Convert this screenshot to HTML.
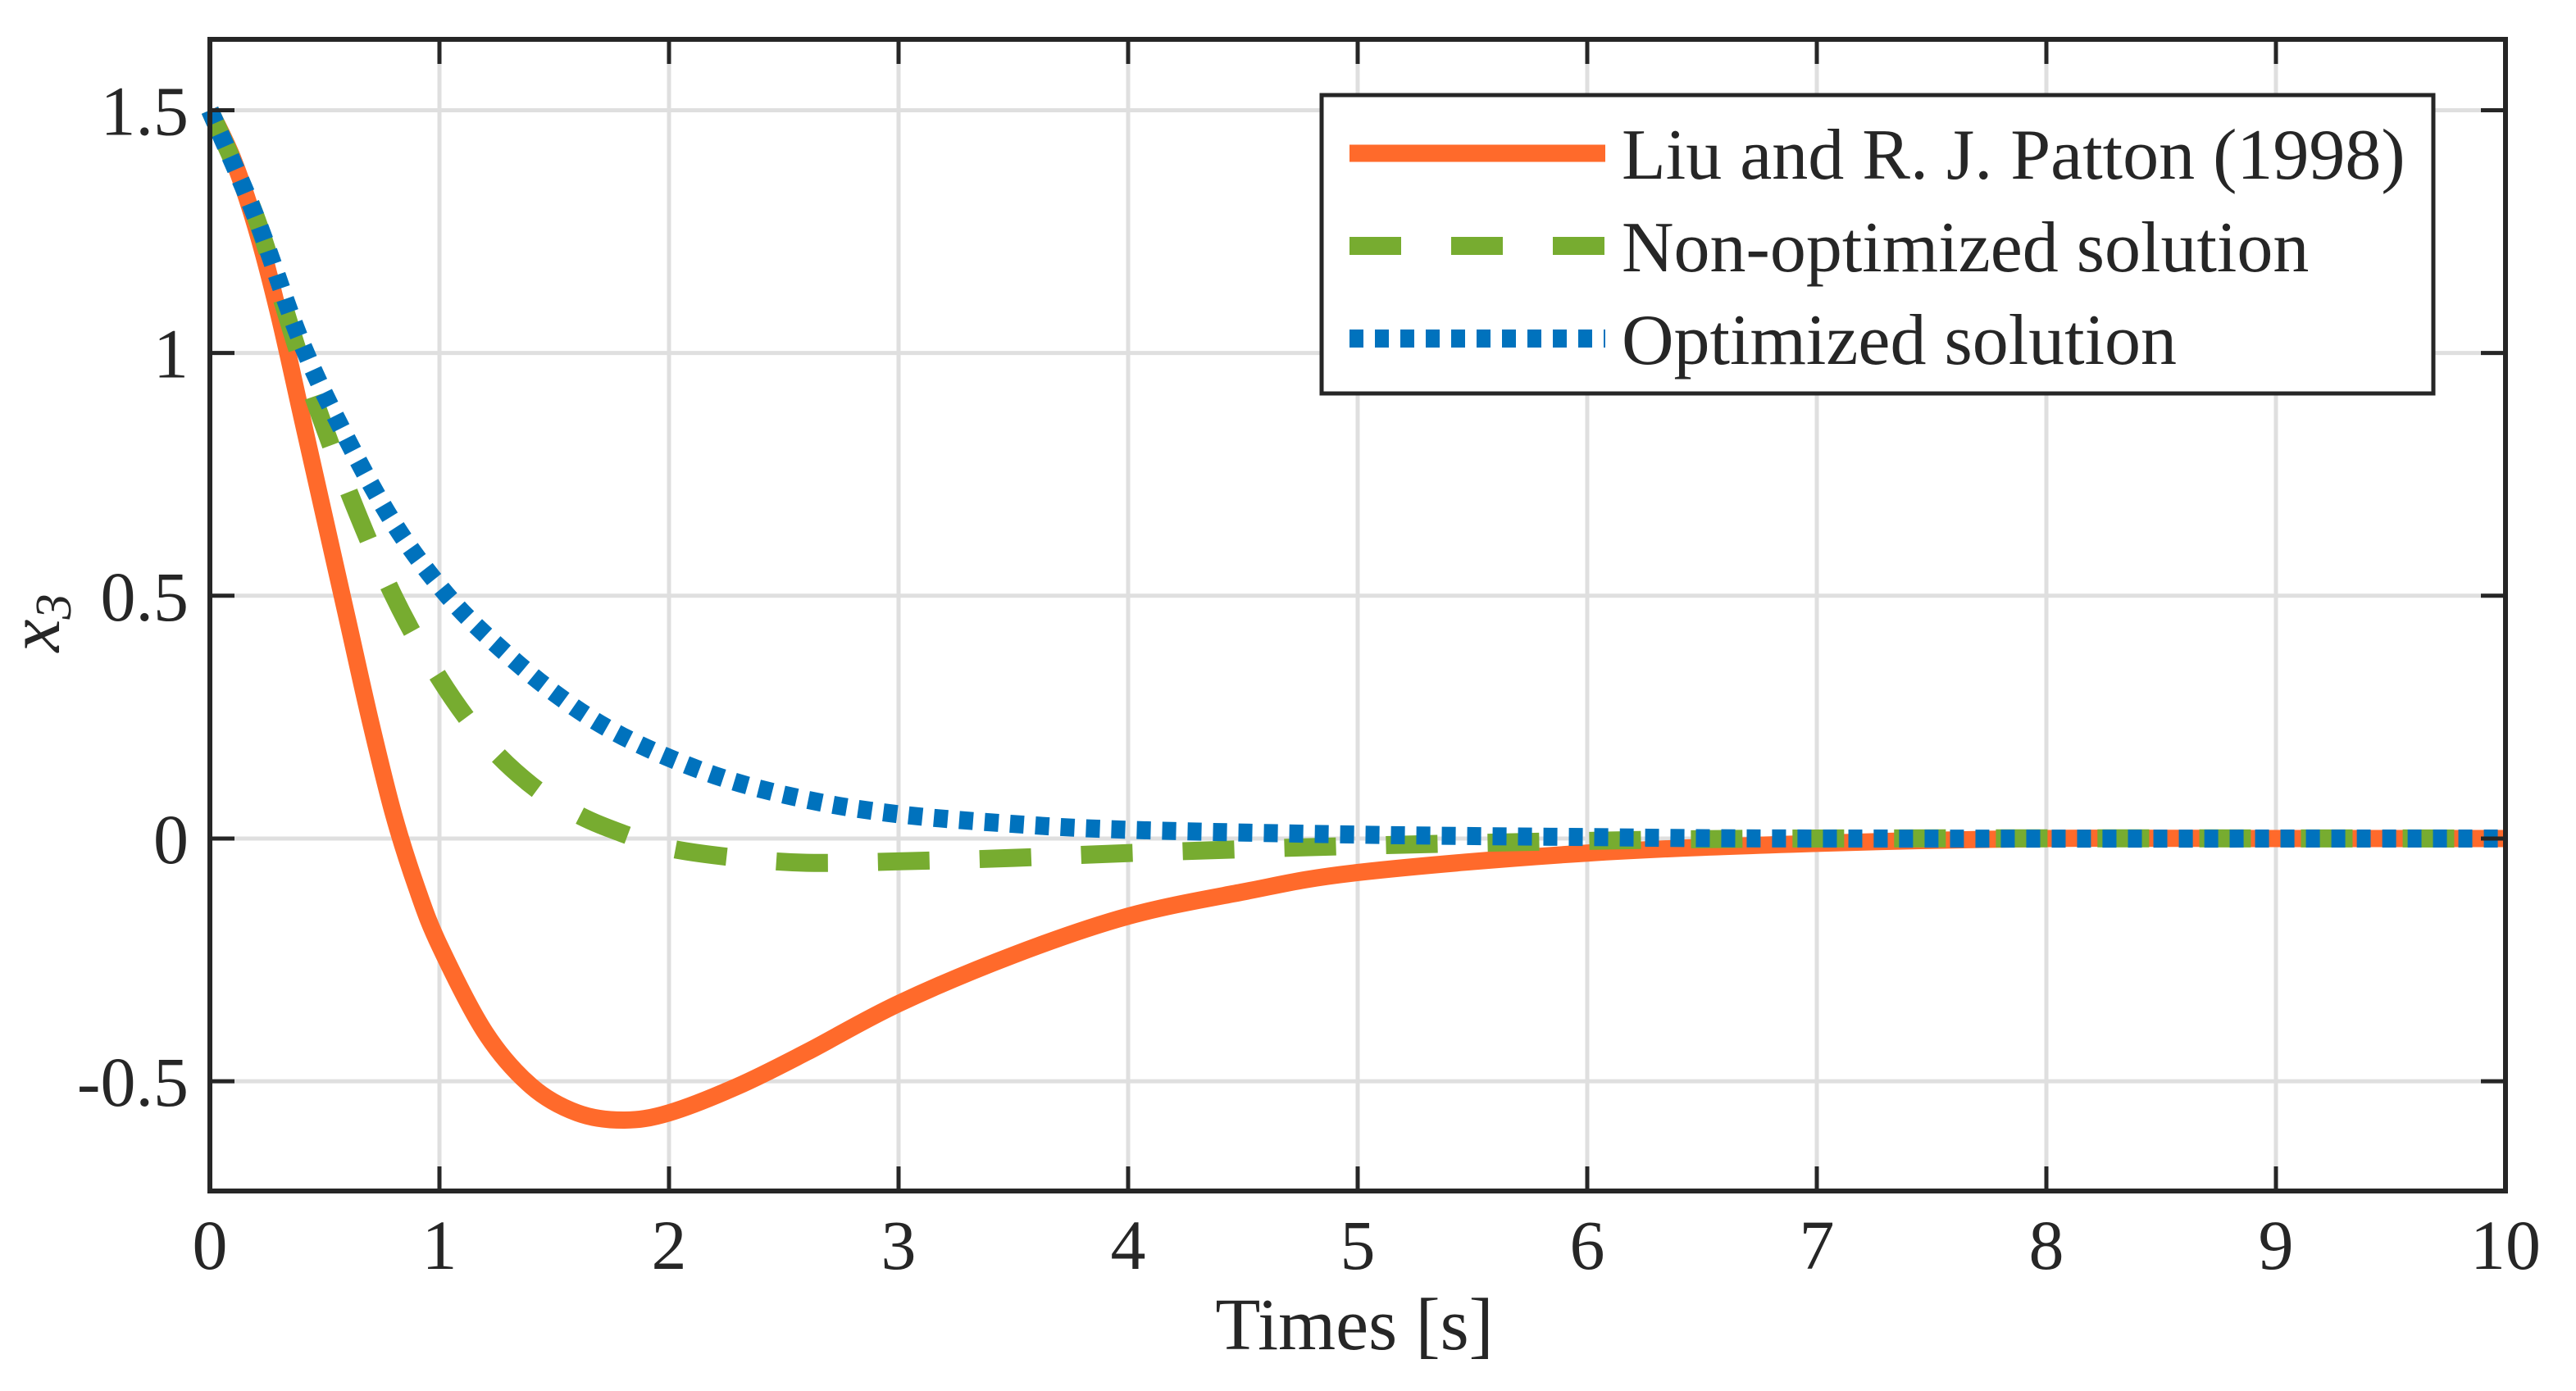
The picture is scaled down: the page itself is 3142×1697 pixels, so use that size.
<!DOCTYPE html>
<html><head><meta charset="utf-8"><style>
html,body{margin:0;padding:0;background:#fff;}
svg text{font-family:"Liberation Serif",serif;fill:#262626;}
</style></head><body>
<svg id="chart" width="3142" height="1692" viewBox="0 0 3142 1692" xmlns="http://www.w3.org/2000/svg">
<g id="grid"></g>
<g id="series"></g>
<g id="axes"></g>
<text x="1652" y="1646" font-size="90" text-anchor="middle">Times [s]</text>
<text transform="translate(72,760) rotate(-90)" font-size="90" font-style="italic" text-anchor="middle">x<tspan font-size="62" dy="14">3</tspan></text>
<g>
<rect x="1612" y="116" width="1356" height="364" fill="#fff" stroke="#262626" stroke-width="5"/>
<line x1="1646" y1="187" x2="1958" y2="187" stroke="#FF6A2B" stroke-width="21"/>
<text x="1978" y="218" font-size="88">Liu and R. J. Patton (1998)</text>
<line x1="1646" y1="300" x2="1958" y2="300" stroke="#77AC30" stroke-width="22" stroke-dasharray="63 61"/>
<text x="1978" y="331" font-size="88">Non-optimized solution</text>
<line x1="1646" y1="413" x2="1958" y2="413" stroke="#0072BD" stroke-width="22" stroke-dasharray="17 14"/>
<text x="1978" y="444" font-size="88">Optimized solution</text>
</g>
</svg>
<script>
const xTicks=[0,1,2,3,4,5,6,7,8,9,10];
const yTicks=[-0.5,0,0.5,1,1.5];
const yTickLabels=["-0.5","0","0.5","1","1.5"];
const tLiu=[0,0.1,0.2,0.3,0.4,0.5,0.6,0.7,0.8,0.9,1.0,1.2,1.4,1.6,1.8,2.0,2.3,2.6,3.0,3.5,4,4.5,5,6,7,8,9,10];
const yLiu=[1.5,1.4,1.26,1.08,0.87,0.66,0.45,0.24,0.05,-0.10,-0.22,-0.40,-0.51,-0.565,-0.58,-0.565,-0.51,-0.44,-0.34,-0.24,-0.16,-0.11,-0.07,-0.03,-0.01,0,0,0];
const tNon=[0,0.2,0.4,0.6,0.8,1.0,1.2,1.4,1.6,1.8,2.0,2.3,2.6,3.0,3.5,4,5,6,7,10];
const yNon=[1.5,1.28,0.98,0.72,0.5,0.33,0.2,0.11,0.05,0.01,-0.02,-0.04,-0.05,-0.047,-0.04,-0.03,-0.015,-0.005,0,0];
const tOpt=[0,0.2,0.4,0.6,0.8,1.0,1.2,1.5,1.8,2.2,2.6,3,3.5,4,5,6,7,10];
const yOpt=[1.5,1.28,1.02,0.82,0.65,0.52,0.42,0.3,0.21,0.13,0.08,0.05,0.03,0.018,0.008,0.003,0,0];

const L=256,R=3056,T=48,B=1453,xMin=0,xMax=10,yMin=-0.726,yMax=1.646;
const sx=v=>L+(v-xMin)/(xMax-xMin)*(R-L);
const sy=v=>B-(v-yMin)/(yMax-yMin)*(B-T);
const NS="http://www.w3.org/2000/svg";
function mk(tag,attrs,parent){const e=document.createElementNS(NS,tag);for(const k in attrs)e.setAttribute(k,attrs[k]);parent.appendChild(e);return e;}
const grid=document.getElementById('grid'),axes=document.getElementById('axes'),series=document.getElementById('series');
xTicks.forEach(v=>{
  const g=mk('line',{x1:sx(v),x2:sx(v),y1:T,y2:B,stroke:'#dfdfdf','stroke-width':5},grid);
  
  
  const t1=mk('line',{x1:sx(v),x2:sx(v),y1:B,y2:B-30,stroke:'#262626','stroke-width':5},axes);
  
  
  const t2=mk('line',{x1:sx(v),x2:sx(v),y1:T,y2:T+30,stroke:'#262626','stroke-width':5},axes);
  
  
  const lb=mk('text',{x:sx(v),y:1548,'font-size':86,'text-anchor':'middle'},axes);
  lb.textContent=String(v);
  
  
});
yTicks.forEach((v,i)=>{
  const g=mk('line',{x1:L,x2:R,y1:sy(v),y2:sy(v),stroke:'#dfdfdf','stroke-width':5},grid);
  
  
  const t1=mk('line',{x1:L,x2:L+30,y1:sy(v),y2:sy(v),stroke:'#262626','stroke-width':5},axes);
  
  
  const t2=mk('line',{x1:R,x2:R-30,y1:sy(v),y2:sy(v),stroke:'#262626','stroke-width':5},axes);
  
  
  const lb=mk('text',{x:230,y:sy(v)+30,'font-size':86,'text-anchor':'end'},axes);
  lb.textContent=yTickLabels[i];
  
  
});
const frame=mk('rect',{x:L,y:T,width:R-L,height:B-T,fill:'none',stroke:'#262626','stroke-width':6},axes);


function smooth(ts,ys){
  const p=ts.map((t,i)=>[sx(t),sy(ys[i])]);
  let d='M'+p[0][0]+','+p[0][1];
  for(let i=0;i<p.length-1;i++){
    const p0=p[i-1]||p[i],p1=p[i],p2=p[i+1],p3=p[i+2]||p2;
    const c1=[p1[0]+(p2[0]-p0[0])/6,p1[1]+(p2[1]-p0[1])/6];
    const c2=[p2[0]-(p3[0]-p1[0])/6,p2[1]-(p3[1]-p1[1])/6];
    d+=' C'+c1[0]+','+c1[1]+' '+c2[0]+','+c2[1]+' '+p2[0]+','+p2[1];
  }
  return d;
}
const s1=mk('path',{d:smooth(tLiu,yLiu),fill:'none',stroke:'#FF6A2B','stroke-width':21,'stroke-linejoin':'round'},series);


const s2=mk('path',{d:smooth(tNon,yNon),fill:'none',stroke:'#77AC30','stroke-width':22,'stroke-dasharray':'63 61'},series);


const s3=mk('path',{d:smooth(tOpt,yOpt),fill:'none',stroke:'#0072BD','stroke-width':22,'stroke-dasharray':'17 14'},series);


</script>
</body></html>
